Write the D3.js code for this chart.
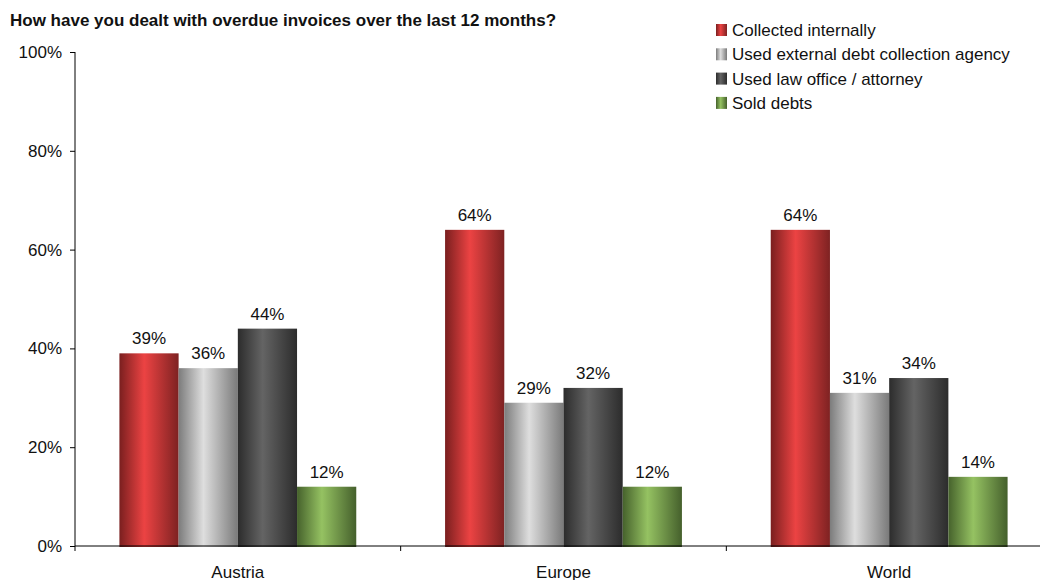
<!DOCTYPE html>
<html>
<head>
<meta charset="utf-8">
<script src="https://cdn.jsdelivr.net/npm/d3@7"></script>
<style>
  html, body { margin: 0; padding: 0; background: #fff; }
  svg { display: block; font-family: "Liberation Sans", Arial, sans-serif; }
</style>
</head>
<body>
<svg id="chart" width="1040" height="580"></svg>
<script>
// Survey results: share of companies per collection approach
const title = "How have you dealt with overdue invoices over the last 12 months?";
const regions = ["Austria", "Europe", "World"];
const seriesNames = [
  "Collected internally",
  "Used external debt collection agency",
  "Used law office / attorney",
  "Sold debts"
];
const collectedInternally = [39, 64, 64];
const externalAgency = [36, 29, 31];
const lawOffice = [44, 32, 34];
const soldDebts = [12, 12, 14];
const yTicks = [0, 20, 40, 60, 80, 100];

const seriesValues = [collectedInternally, externalAgency, lawOffice, soldDebts];

// Cylinder-like horizontal shading per series: [edge, highlight, far edge]
const shades = [
  ["#7a1f1f", "#ec4343", "#7e2222"],
  ["#7c7c7c", "#dedede", "#7a7a7a"],
  ["#2c2c2c", "#646464", "#2c2c2c"],
  ["#46622c", "#95c262", "#45602c"]
];

const FONT = 17;
const svg = d3.select("#chart");
const margin = { left: 75, top: 52, bottom: 546, right: 1052 };

const x0 = d3.scaleBand().domain(regions).range([margin.left, margin.right]).paddingInner(0).paddingOuter(0);
const x1 = d3.scaleBand().domain(d3.range(seriesNames.length))
  .range([0, x0.bandwidth()]).paddingOuter(0.75).paddingInner(0);
const y = d3.scaleLinear().domain([0, 100]).range([margin.bottom, margin.top]);

const defs = svg.append("defs");
shades.forEach((s, i) => {
  const g = defs.append("linearGradient").attr("id", "grad" + i)
    .attr("x1", "0%").attr("x2", "100%").attr("y1", "0%").attr("y2", "0%");
  g.append("stop").attr("offset", "0%").attr("stop-color", s[0]);
  g.append("stop").attr("offset", "42%").attr("stop-color", s[1]);
  g.append("stop").attr("offset", "100%").attr("stop-color", s[2]);
});

// Title
svg.append("text").attr("x", 10).attr("y", 26)
  .attr("font-size", FONT).attr("font-weight", "bold").attr("fill", "#111")
  .text(title);

// Bars with value labels
const groups = svg.append("g").selectAll("g").data(regions).join("g")
  .attr("transform", d => `translate(${x0(d)},0)`);

groups.each(function (region, ri) {
  const g = d3.select(this);
  seriesValues.forEach((vals, si) => {
    const v = vals[ri];
    g.append("rect")
      .attr("x", x1(si))
      .attr("y", y(v))
      .attr("width", x1.bandwidth())
      .attr("height", y(0) - y(v) + 1)
      .attr("fill", `url(#grad${si})`);
    g.append("text")
      .attr("x", x1(si) + x1.bandwidth() / 2)
      .attr("y", y(v) - 9)
      .attr("text-anchor", "middle")
      .attr("font-size", FONT).attr("fill", "#111")
      .text(v + "%");
  });
});

// Y axis
const yAxis = d3.axisLeft(y).tickValues(yTicks).tickFormat(d => d + "%").tickSize(5).tickSizeOuter(0);
const yg = svg.append("g").attr("transform", `translate(${margin.left},0)`).call(yAxis);
yg.select(".domain").remove();
yg.append("line").attr("x1", 0).attr("x2", 0).attr("y1", y(100)).attr("y2", y(0) + 5).attr("stroke", "#000");
yg.selectAll(".tick line").attr("stroke", "#000");
yg.selectAll(".tick text").attr("font-size", FONT).attr("fill", "#111")
  .attr("font-family", "Liberation Sans, Arial, sans-serif").attr("x", -13);

// X axis
const xg = svg.append("g").attr("transform", `translate(0,${y(0)})`);
xg.append("line").attr("x1", margin.left).attr("x2", margin.right).attr("stroke", "#000");
xg.selectAll("line.sep").data(regions.slice(1)).join("line").attr("class", "sep")
  .attr("x1", d => x0(d)).attr("x2", d => x0(d)).attr("y1", 0).attr("y2", 5).attr("stroke", "#000");
xg.selectAll("text").data(regions).join("text")
  .attr("x", d => x0(d) + x0.bandwidth() / 2)
  .attr("y", 32)
  .attr("text-anchor", "middle").attr("font-size", FONT).attr("fill", "#111")
  .text(d => d);

// Legend
const legend = svg.append("g").attr("transform", "translate(716,24)");
seriesNames.forEach((name, i) => {
  const row = legend.append("g").attr("transform", `translate(0,${i * 24.3})`);
  row.append("rect").attr("width", 11).attr("height", 12).attr("fill", `url(#grad${i})`);
  row.append("text").attr("x", 16).attr("y", 12).attr("font-size", FONT).attr("fill", "#111").text(name);
});
</script>
</body>
</html>
